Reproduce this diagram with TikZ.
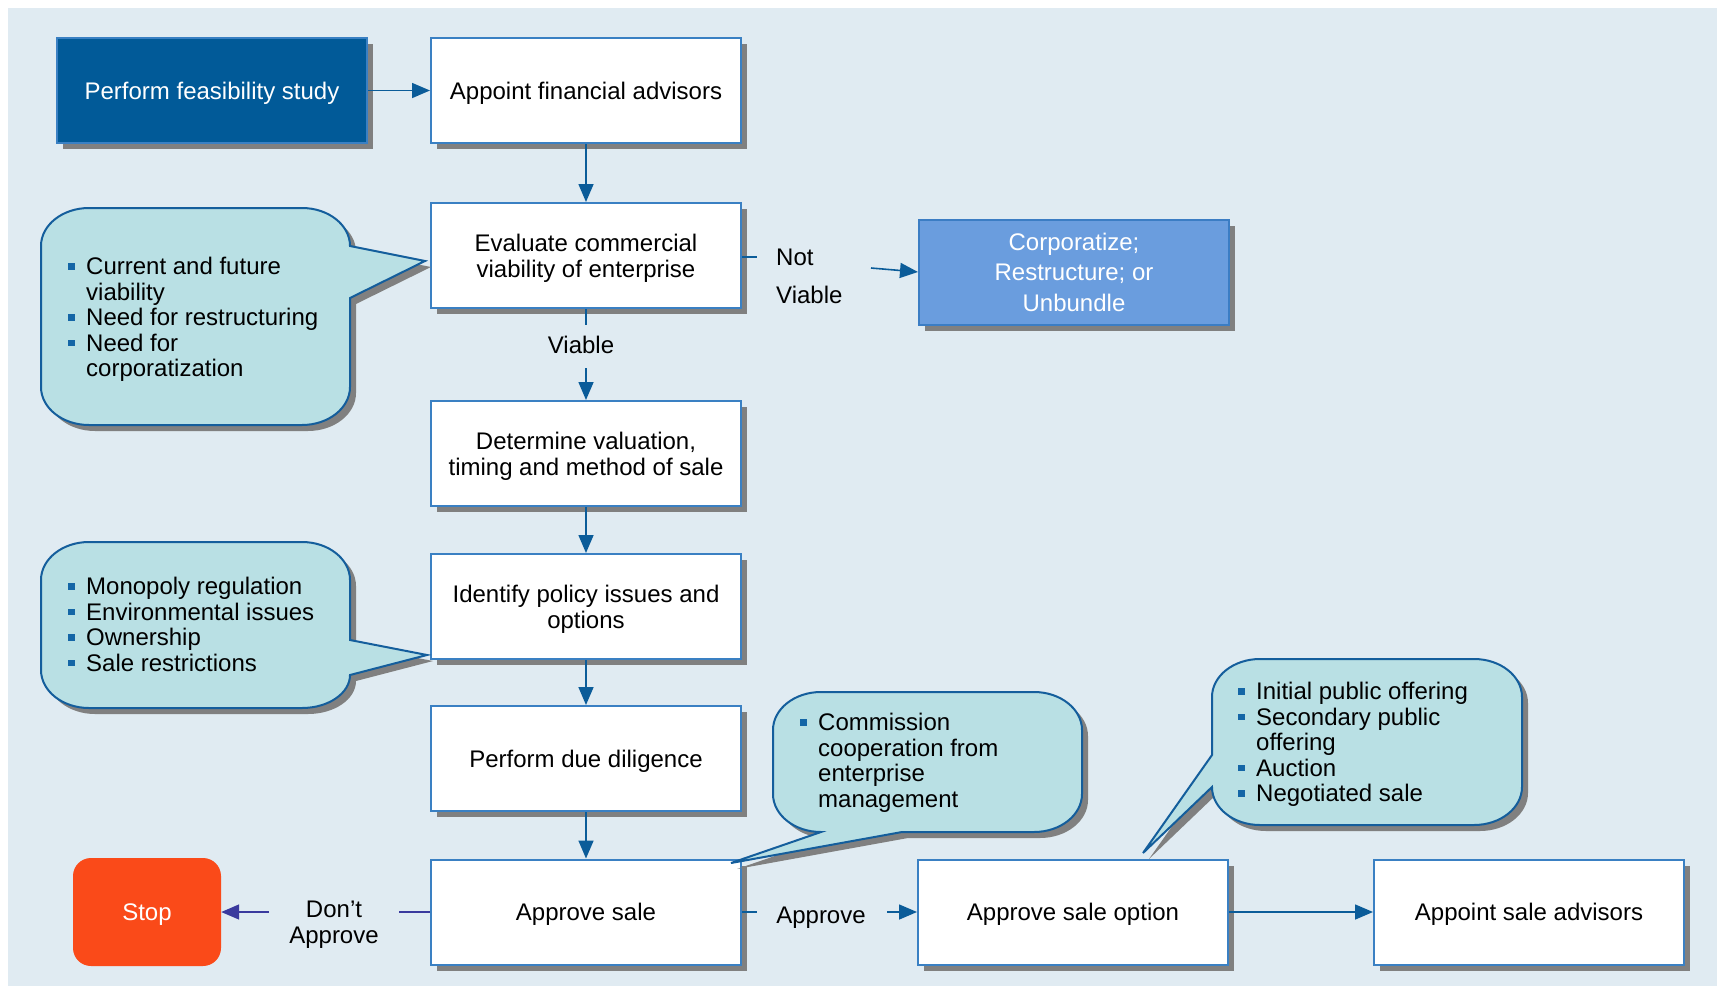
\documentclass[tikz,border=0pt]{standalone}
\usepackage{fontspec}
\setmainfont{Liberation Sans}
\usetikzlibrary{arrows.meta}
\definecolor{bgcol}{HTML}{E0EBF2}
\definecolor{boxborder}{HTML}{3A80C3}
\definecolor{arrowcol}{HTML}{0B5C99}
\definecolor{feasfill}{HTML}{015A98}
\definecolor{corpfill}{HTML}{6A9DDE}
\definecolor{corpborder}{HTML}{3B7DC4}
\definecolor{callfill}{HTML}{B9E0E4}
\definecolor{callborder}{HTML}{145E9C}
\definecolor{shadowgray}{HTML}{808080}
\definecolor{stopfill}{HTML}{FA4A19}
\definecolor{purplecol}{HTML}{3A3A9E}
\definecolor{bulcol}{HTML}{1466A6}
\newcommand{\bsq}{\makebox[18pt][l]{\textcolor{bulcol}{\rule[5pt]{6.5pt}{6.5pt}}}}
\newcommand{\bind}{\hspace*{18pt}}
\begin{document}
\begin{tikzpicture}[x=1pt,y=-1pt,
  every node/.style={font=\fontsize{24}{26}\selectfont},
  shadowed/.style={preaction={fill=shadowgray,transform canvas={shift={(6pt,-6pt)}}}},
  flowbox/.style={shadowed,draw=boxborder,line width=2pt,fill=white,minimum width=310pt,minimum height=105pt,inner sep=2pt,align=center,text depth=0pt},
  callout/.style={shadowed,draw=callborder,line width=2pt,fill=callfill},
  conn/.style={draw=arrowcol,line width=1.6pt},
  arr/.style={conn,-{Triangle[length=18pt,width=15pt]}},
  parr/.style={draw=purplecol,line width=1.6pt,-{Triangle[length=18pt,width=15pt]}},
  lbl/.style={inner sep=0pt,align=left},
  calltext/.style={inner sep=0pt,anchor=north west,align=left,font=\fontsize{24}{25.5}\selectfont}
]
\useasboundingbox (0,0) rectangle (1717,986);
\fill[bgcol] (8,8) rectangle (1717,986);

% boxes
\node[flowbox,fill=feasfill,text=white] (feas) at (212,90.5) {Perform feasibility study};
\node[flowbox] (afa) at (586,90.5) {Appoint financial advisors};
\node[flowbox] (eval) at (586,255.5) {Evaluate commercial\\viability of enterprise};
\node[flowbox,fill=corpfill,draw=corpborder,text=white,font=\fontsize{24}{30.5}\selectfont] (corp) at (1074,272) {Corporatize;\\Restructure; or\\Unbundle};
\node[flowbox] (det) at (586,453.5) {Determine valuation,\\timing and method of sale};
\node[flowbox] (pol) at (586,606.5) {Identify policy issues and\\options};
\node[flowbox] (due) at (586,758.5) {Perform due diligence};
\node[flowbox] (apps) at (586,912) {Approve sale};
\node[flowbox] (appo) at (1073,912) {Approve sale option};
\node[flowbox] (adv) at (1529,912) {Appoint sale advisors};
\node[fill=stopfill,rounded corners=18pt,minimum width=148pt,minimum height=108pt,text=white,inner sep=0pt,text depth=0pt] (stop) at (147,912) {Stop};

% labels
\node[lbl,anchor=west] (notv) at (776,257) {Not};
\node[lbl,anchor=west] (viab2) at (776,295) {Viable};
\node[lbl] (viab) at (581,345) {Viable};
\node[lbl,align=center] (dont) at (334,925) {Don’t\\Approve};
\node[lbl] (appr) at (821,918) {Approve};

\coordinate (nv1) at (757,257);
\coordinate (nv2) at (871,268);
\coordinate (v1) at (586,325);
\coordinate (v2) at (586,368);
\coordinate (d1) at (399,912);
\coordinate (d2) at (269,912);
\coordinate (a1) at (757,912);
\coordinate (a2) at (887,912);

% connectors
\draw[arr] (feas.east) -- (afa.west);
\draw[arr] (afa.south) -- (eval.north);
\draw[conn] (eval.east |- nv1) -- (nv1);
\draw[arr] (nv2) -- (corp.west |- 0,272);
\draw[conn] (eval.south) -- (v1);
\draw[arr] (v2) -- (det.north);
\draw[arr] (det.south) -- (pol.north);
\draw[arr] (pol.south) -- (due.north);
\draw[arr] (due.south) -- (apps.north);
\draw[draw=purplecol,line width=1.6pt] (apps.west) -- (d1);
\draw[parr] (d2) -- (stop.east);
\draw[conn] (apps.east) -- (a1);
\draw[arr] (a2) -- (appo.west);
\draw[arr] (appo.east) -- (adv.west);

% callouts
\draw[callout] (89,208) -- (302,208) arc[start angle=90,end angle=0,x radius=48pt,y radius=38pt]
  -- (425,261) -- (350,298) -- (350,387) arc[start angle=0,end angle=-90,x radius=48pt,y radius=38pt]
  -- (89,425) arc[start angle=270,end angle=180,x radius=48pt,y radius=38pt]
  -- (41,246) arc[start angle=180,end angle=90,x radius=48pt,y radius=38pt] -- cycle;
\draw[callout] (89,542) -- (302,542) arc[start angle=90,end angle=0,x radius=48pt,y radius=38pt]
  -- (350,640) -- (427,655) -- (350,675) arc[start angle=0,end angle=-90,x radius=48pt,y radius=33pt]
  -- (89,708) arc[start angle=270,end angle=180,x radius=48pt,y radius=38pt]
  -- (41,580) arc[start angle=180,end angle=90,x radius=48pt,y radius=38pt] -- cycle;
\draw[callout] (821,692) -- (1034,692) arc[start angle=90,end angle=0,x radius=48pt,y radius=38pt]
  -- (1082,794) arc[start angle=0,end angle=-90,x radius=48pt,y radius=38pt]
  -- (902,832) -- (731,863) -- (821,832) arc[start angle=270,end angle=180,x radius=48pt,y radius=38pt]
  -- (773,730) arc[start angle=180,end angle=90,x radius=48pt,y radius=38pt] -- cycle;
\draw[callout] (1260,659) -- (1474,659) arc[start angle=90,end angle=0,x radius=48pt,y radius=38pt]
  -- (1522,787) arc[start angle=0,end angle=-90,x radius=48pt,y radius=38pt]
  -- (1260,825) arc[start angle=270,end angle=180,x radius=48pt,y radius=38pt]
  -- (1143,853) -- (1212,755) -- (1212,697) arc[start angle=180,end angle=90,x radius=48pt,y radius=38pt] -- cycle;

% callout texts
\node[calltext] (ta) at (68,257) {\bsq Current and future\\\bind viability\\\bsq Need for restructuring\\\bsq Need for\\\bind corporatization};
\node[calltext] (tb) at (68,577) {\bsq Monopoly regulation\\\bsq Environmental issues\\\bsq Ownership\\\bsq Sale restrictions};
\node[calltext] (tc) at (800,713) {\bsq Commission\\\bind cooperation from\\\bind enterprise\\\bind management};
\node[calltext] (td) at (1238,682) {\bsq Initial public offering\\\bsq Secondary public\\\bind offering\\\bsq Auction\\\bsq Negotiated sale};
\end{tikzpicture}
\end{document}
